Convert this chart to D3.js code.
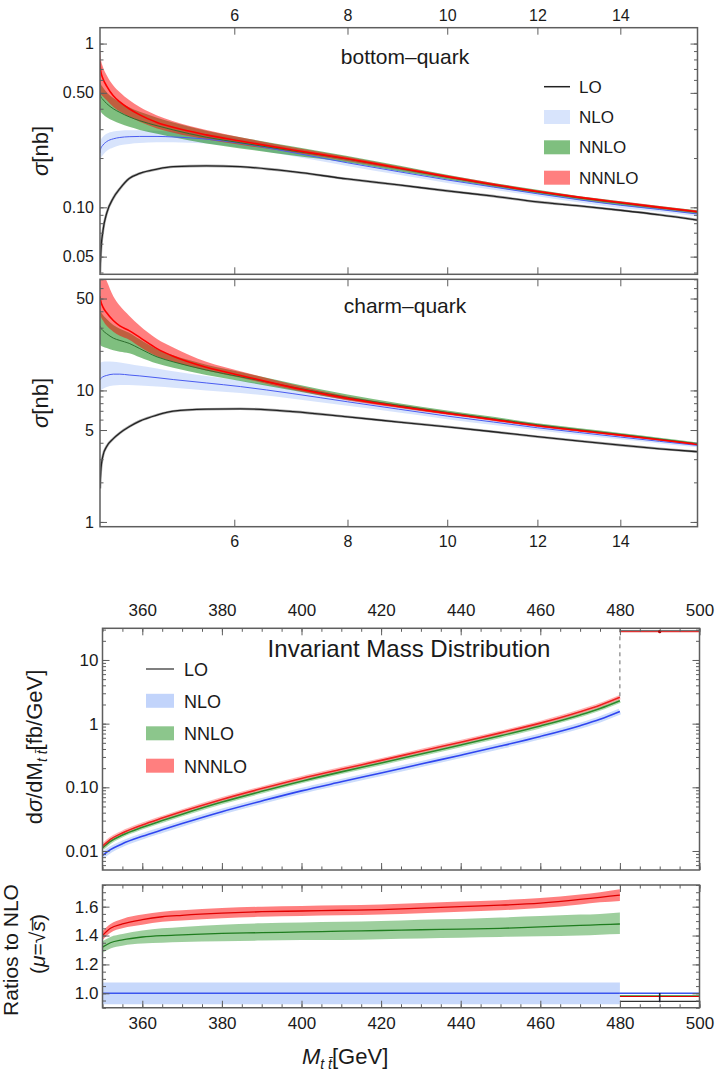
<!DOCTYPE html>
<html>
<head>
<meta charset="utf-8">
<script src="https://cdn.jsdelivr.net/npm/d3@7"></script>
<style>
  body { margin: 0; background: #fff; }
  svg text { font-family: "Liberation Sans", Arial, sans-serif; fill: #1a1a1a; }
</style>
</head>
<body>
<svg></svg>
<script>
// ---- top panels: x is s/m^2 ----
const sX = [4.0, 4.01, 4.04, 4.09, 4.18, 4.27, 4.4, 4.55, 4.8, 5.04, 5.55, 6.1, 7, 8, 9, 10, 11, 12, 13, 14, 15, 16]

// bottom-quark [nb]
const bLO = [0.040, 0.052, 0.072, 0.092, 0.114, 0.130, 0.150, 0.161, 0.171, 0.177, 0.179, 0.177, 0.165, 0.149, 0.137, 0.126, 0.117, 0.108, 0.102, 0.096, 0.090, 0.0836]
const bNLO = [0.215, 0.228, 0.240, 0.252, 0.262, 0.267, 0.270, 0.271, 0.271, 0.269, 0.261, 0.246, 0.216, 0.187, 0.165, 0.147, 0.133, 0.121, 0.111, 0.103, 0.097, 0.091]
const bNLOhi = [0.245, 0.258, 0.270, 0.281, 0.290, 0.294, 0.296, 0.296, 0.294, 0.290, 0.280, 0.262, 0.228, 0.196, 0.172, 0.153, 0.138, 0.126, 0.115, 0.107, 0.100, 0.094]
const bNLOlo = [0.188, 0.198, 0.209, 0.221, 0.232, 0.239, 0.244, 0.247, 0.250, 0.250, 0.245, 0.232, 0.205, 0.179, 0.158, 0.141, 0.128, 0.117, 0.107, 0.099, 0.094, 0.088]
const bNNLO = [0.50, 0.475, 0.455, 0.43, 0.40, 0.38, 0.357, 0.338, 0.315, 0.297, 0.268, 0.248, 0.221, 0.197, 0.173, 0.153, 0.137, 0.124, 0.114, 0.106, 0.0995, 0.0935]
const bNNLOhi = [0.60, 0.57, 0.54, 0.505, 0.465, 0.438, 0.408, 0.383, 0.353, 0.330, 0.294, 0.268, 0.235, 0.206, 0.180, 0.158, 0.141, 0.128, 0.117, 0.109, 0.102, 0.096]
const bNNLOlo = [0.40, 0.385, 0.37, 0.355, 0.338, 0.325, 0.31, 0.297, 0.281, 0.268, 0.245, 0.229, 0.207, 0.188, 0.166, 0.148, 0.133, 0.121, 0.111, 0.103, 0.097, 0.091]
const bN3LO = [0.78, 0.68, 0.61, 0.55, 0.48, 0.44, 0.40, 0.367, 0.33, 0.308, 0.277, 0.254, 0.224, 0.198, 0.174, 0.154, 0.138, 0.125, 0.115, 0.107, 0.100, 0.094]
const bN3LOhi = [0.95, 0.82, 0.72, 0.64, 0.555, 0.505, 0.452, 0.41, 0.364, 0.336, 0.297, 0.268, 0.233, 0.204, 0.178, 0.157, 0.141, 0.127, 0.117, 0.109, 0.102, 0.0955]
const bN3LOlo = [0.50, 0.49, 0.475, 0.45, 0.41, 0.385, 0.357, 0.333, 0.303, 0.285, 0.260, 0.241, 0.216, 0.192, 0.170, 0.151, 0.135, 0.123, 0.113, 0.105, 0.098, 0.0925]

// charm-quark [nb]
const cLO = [1.8, 2.4, 3.2, 3.75, 4.3, 4.75, 5.3, 5.85, 6.5, 6.95, 7.2, 7.25, 6.9, 6.3, 5.75, 5.29, 4.85, 4.45, 4.12, 3.84, 3.6, 3.42]
const cNLO = [12.0, 12.3, 12.7, 13.0, 13.3, 13.3, 13.1, 12.9, 12.5, 12.1, 11.4, 10.7, 9.45, 8.2, 7.2, 6.38, 5.75, 5.2, 4.78, 4.42, 4.1, 3.82]
const cNLOhi = [16.0, 16.3, 16.5, 16.6, 16.5, 16.3, 15.9, 15.4, 14.7, 14.0, 12.9, 11.9, 10.3, 8.8, 7.65, 6.75, 6.05, 5.45, 5.0, 4.6, 4.26, 3.96]
const cNLOlo = [9.8, 10.0, 10.3, 10.6, 10.9, 11.0, 11.0, 10.9, 10.7, 10.5, 10.0, 9.55, 8.65, 7.65, 6.8, 6.05, 5.47, 4.97, 4.58, 4.25, 3.95, 3.69]
const cNNLO = [31, 30, 28.5, 27, 25, 24, 22.8, 20.8, 18, 16.5, 14.3, 12.7, 10.6, 8.85, 7.7, 6.8, 6.1, 5.48, 5.02, 4.63, 4.27, 3.93]
const cNNLOhi = [42, 40, 37.5, 35, 31.5, 29.5, 27.5, 24.5, 20.6, 18.5, 15.7, 13.8, 11.3, 9.3, 8.0, 7.05, 6.3, 5.64, 5.16, 4.75, 4.37, 4.02]
const cNNLOlo = [22.5, 22, 21.5, 21, 20.2, 19.7, 19.2, 17.9, 16.0, 14.9, 13.1, 11.8, 10.0, 8.45, 7.42, 6.58, 5.92, 5.33, 4.89, 4.52, 4.17, 3.85]
const cN3LO = [52, 48, 43, 39, 34, 31, 28.5, 25.3, 20.8, 18.2, 15.0, 13.0, 10.5, 8.7, 7.55, 6.69, 6.0, 5.39, 4.95, 4.57, 4.22, 3.89]
const cN3LOhi = [90, 85, 78, 68, 52, 44, 37, 31, 24.6, 21.2, 16.5, 14.0, 11.1, 9.05, 7.8, 6.88, 6.15, 5.52, 5.06, 4.66, 4.30, 3.96]
const cN3LOlo = [40, 37, 34, 31, 28, 26, 24.3, 21.5, 18.2, 16.5, 14.2, 12.5, 10.1, 8.4, 7.35, 6.52, 5.86, 5.27, 4.85, 4.48, 4.14, 3.83]

// ---- invariant mass distribution [fb/GeV] ----
const mX = [350, 352, 355, 360, 365, 370, 380, 390, 400, 410, 420, 430, 440, 450, 460, 470, 475, 480]
const mNLO = [0.0085, 0.0105, 0.013, 0.017, 0.0215, 0.027, 0.0415, 0.061, 0.088, 0.122, 0.168, 0.232, 0.32, 0.445, 0.63, 0.93, 1.17, 1.55]
const mNNLO = [0.0112, 0.0142, 0.0178, 0.0236, 0.0301, 0.0379, 0.0587, 0.0866, 0.125, 0.175, 0.241, 0.334, 0.462, 0.645, 0.920, 1.37, 1.73, 2.29]
const mN3LO = [0.0119, 0.0152, 0.0192, 0.0257, 0.0329, 0.0416, 0.0645, 0.0955, 0.138, 0.192, 0.265, 0.369, 0.512, 0.717, 1.02, 1.54, 1.95, 2.60]

// ratios to NLO
const rN3LO = [1.40, 1.45, 1.48, 1.51, 1.53, 1.54, 1.555, 1.565, 1.57, 1.575, 1.58, 1.59, 1.60, 1.61, 1.625, 1.65, 1.665, 1.68]
const rN3LOhi = [1.43, 1.48, 1.515, 1.545, 1.565, 1.575, 1.59, 1.60, 1.605, 1.61, 1.615, 1.625, 1.635, 1.645, 1.66, 1.685, 1.70, 1.72]
const rN3LOlo = [1.37, 1.42, 1.45, 1.475, 1.495, 1.505, 1.52, 1.53, 1.535, 1.54, 1.545, 1.555, 1.565, 1.575, 1.59, 1.615, 1.63, 1.64]
const rNNLO = [1.32, 1.35, 1.37, 1.39, 1.40, 1.405, 1.415, 1.42, 1.425, 1.43, 1.435, 1.44, 1.445, 1.45, 1.46, 1.47, 1.475, 1.48]
const rNNLOhi = [1.36, 1.39, 1.41, 1.435, 1.45, 1.46, 1.475, 1.485, 1.49, 1.495, 1.50, 1.51, 1.515, 1.525, 1.535, 1.545, 1.55, 1.56]
const rNNLOlo = [1.28, 1.31, 1.33, 1.345, 1.35, 1.355, 1.36, 1.365, 1.37, 1.37, 1.375, 1.38, 1.385, 1.39, 1.395, 1.40, 1.405, 1.41]
const rNLOx = [350, 480]
const rNLO = [1.0, 1.0]
const rNLOhi = [1.075, 1.075]
const rNLOlo = [0.925, 0.925]

// the last bin, 480-500
const tailX = [480, 500]
const mTailLO = [28.5, 28.5]
const mTailN3LO = [27.8, 27.8]
const rTailNLO = [1.0, 1.0]
const rTailNNLO = [0.983, 0.983]
const rTailN3LO = [0.978, 0.978]
const rTailLO = [0.944, 0.944]
const errX = 490
const rErr = [0.938, 1.003]

// ticks and labels
const sTicks = [6, 8, 10, 12, 14]
const bYTicks = [0.05, 0.1, 0.5, 1]
const bYLabels = ["0.05", "0.10", "0.50", "1"]
const cYTicks = [1, 5, 10, 50]
const cYLabels = ["1", "5", "10", "50"]
const mXTicks = [360, 380, 400, 420, 440, 460, 480, 500]
const mYTicks = [0.01, 0.1, 1, 10]
const mYLabels = ["0.01", "0.10", "1", "10"]
const rYTicks = [1.0, 1.2, 1.4, 1.6]
const rYLabels = ["1.0", "1.2", "1.4", "1.6"]
const legendLabels = ["LO", "NLO", "NNLO", "NNNLO"]

const col = {
  lo: "#222", nlo: "#4a5cf0", nloBand: "#8fb1f7",
  nnlo: "#2b8a2b", nnloBand: "#008000", n3lo: "#f00", n3loBand: "#ff0000"
}
const frameColor = "#5e5e5e"
const font = '"Liberation Sans", Arial, sans-serif'

const svg = d3.select("svg").attr("width", 717).attr("height", 1072)

const xS = d3.scaleSqrt().domain([4, 16]).range([100, 697.5])
const yB = d3.scaleLog().domain([0.039, 1.25]).range([274.3, 27.7])
const yC = d3.scaleLog().domain([0.92, 70]).range([526.7, 279.3])
const xM = d3.scaleLinear().domain([350, 500]).range([102.5, 699.5])
const yM = d3.scaleLog().domain([0.00503, 31.45]).range([870, 628.3])
const yR = d3.scaleLinear().domain([0.9, 1.75]).range([1007.75, 885])

function panel(id, x, y) {
  const g = svg.append("g")
  const [x0, x1] = x.range(), [y0, y1] = y.range()
  g.append("clipPath").attr("id", id).append("rect")
    .attr("x", x0).attr("y", y1).attr("width", x1 - x0).attr("height", y0 - y1)
  const plot = g.append("g").attr("clip-path", `url(#${id})`)
  return { g, plot, x, y }
}

function band(p, xs, lo, hi, color, op) {
  p.plot.append("path").datum(xs)
    .attr("d", d3.area()
      .x(d => p.x(d))
      .y0((d, i) => p.y(lo[i]))
      .y1((d, i) => p.y(hi[i]))
      .curve(d3.curveMonotoneX))
    .attr("fill", color).attr("fill-opacity", op)
}

function line(p, xs, vals, color, w, op) {
  return p.plot.append("path").datum(xs)
    .attr("d", d3.line()
      .x(d => p.x(d))
      .y((d, i) => p.y(vals[i]))
      .curve(d3.curveMonotoneX))
    .attr("fill", "none").attr("stroke", color).attr("stroke-width", w)
    .attr("stroke-opacity", op == null ? 1 : op)
}

function addAxis(p, axisFn, scale, pos, majors, labels, minors, pad, fs) {
  const parts = []
  if (minors) {
    parts.push(p.g.append("g").attr("transform", pos)
      .call(axisFn(scale).tickValues(minors).tickSize(-3.5).tickFormat("")))
  }
  parts.push(p.g.append("g").attr("transform", pos)
    .call(axisFn(scale).tickValues(majors).tickSize(-7).tickPadding(pad)
      .tickFormat((d, i) => labels ? labels[i] : "")))
  parts.forEach(a => {
    a.select(".domain").remove()
    a.selectAll("line").attr("stroke", frameColor).attr("stroke-width", 1)
    a.selectAll("text").attr("font-size", fs).attr("font-family", font).attr("fill", "#1a1a1a")
  })
}

function frame(p) {
  const [x0, x1] = p.x.range(), [y0, y1] = p.y.range()
  p.g.append("rect").attr("x", x0).attr("y", y1)
    .attr("width", x1 - x0).attr("height", y0 - y1)
    .attr("fill", "none").attr("stroke", frameColor).attr("stroke-width", 1.5)
}

function yLabel(x, y, size, parts) {
  const t = svg.append("text").attr("transform", `translate(${x},${y}) rotate(-90)`)
    .attr("text-anchor", "middle").attr("font-size", size)
  parts.forEach(([s, st]) => {
    const ts = t.append("tspan").text(s)
    if (st) Object.entries(st).forEach(([k, v]) => ts.attr(k, v))
  })
  return t
}

// ===== panel 1: bottom-quark =====
function crossSection(p, lo, nlo, nloLo, nloHi, nnlo, nnloLo, nnloHi, n3lo, n3loLo, n3loHi) {
  band(p, sX, nloLo, nloHi, col.nloBand, 0.35)
  band(p, sX, nnloLo, nnloHi, col.nnloBand, 0.5)
  band(p, sX, n3loLo, n3loHi, col.n3loBand, 0.5)
  line(p, sX, lo, "#aaa", 2.6)
  line(p, sX, lo, col.lo, 1.3)
  line(p, sX, nlo, col.nlo, 1)
  line(p, sX, nnlo, "#2f6e2f", 1)
  line(p, sX, n3lo, col.n3lo, 1.6)
}

const pB = panel("clipB", xS, yB)
crossSection(pB, bLO, bNLO, bNLOlo, bNLOhi, bNNLO, bNNLOlo, bNNLOhi, bN3LO, bN3LOlo, bN3LOhi)
addAxis(pB, d3.axisLeft, yB, "translate(100,0)", bYTicks, bYLabels, yB.ticks(), 6, 16)
addAxis(pB, d3.axisRight, yB, "translate(697.5,0)", bYTicks, null, yB.ticks(), 6, 16)
addAxis(pB, d3.axisTop, xS, "translate(0,27.7)", sTicks, sTicks.map(String), null, 7, 16)
addAxis(pB, d3.axisBottom, xS, "translate(0,274.3)", sTicks, null, null, 7, 16)
frame(pB)

pB.g.append("text").attr("x", 405).attr("y", 63.5).attr("text-anchor", "middle")
  .attr("font-size", 21).text("bottom\u2013quark")

// legend, top panel
const legB = pB.g.append("g")
const legBy = [86.7, 117, 147.3, 177.7]
legB.append("line").attr("x1", 544).attr("x2", 570).attr("y1", legBy[0]).attr("y2", legBy[0])
  .attr("stroke", col.lo).attr("stroke-width", 1.5)
;[[col.nloBand, 0.35], [col.nnloBand, 0.5], [col.n3loBand, 0.5]].forEach(([c, o], i) => {
  legB.append("rect").attr("x", 544).attr("y", legBy[i + 1] - 7).attr("width", 26).attr("height", 14)
    .attr("fill", c).attr("fill-opacity", o)
})
legendLabels.forEach((s, i) => {
  legB.append("text").attr("x", 579).attr("y", legBy[i] + 6).attr("font-size", 17).text(s)
})

yLabel(48, 151, 22, [["σ", { "font-style": "italic" }], ["[nb]"]])

// ===== panel 2: charm-quark =====
const pC = panel("clipC", xS, yC)
crossSection(pC, cLO, cNLO, cNLOlo, cNLOhi, cNNLO, cNNLOlo, cNNLOhi, cN3LO, cN3LOlo, cN3LOhi)
addAxis(pC, d3.axisLeft, yC, "translate(100,0)", cYTicks, cYLabels, yC.ticks(), 6, 16)
addAxis(pC, d3.axisRight, yC, "translate(697.5,0)", cYTicks, null, yC.ticks(), 6, 16)
addAxis(pC, d3.axisTop, xS, "translate(0,279.3)", sTicks, null, null, 7, 16)
addAxis(pC, d3.axisBottom, xS, "translate(0,526.7)", sTicks, sTicks.map(String), null, 9, 16)
frame(pC)

pC.g.append("text").attr("x", 405).attr("y", 313).attr("text-anchor", "middle")
  .attr("font-size", 21).text("charm\u2013quark")

yLabel(48, 403, 22, [["σ", { "font-style": "italic" }], ["[nb]"]])

// ===== panel 3: invariant mass distribution =====
const pM = panel("clipM", xM, yM)
line(pM, mX, mNLO, col.nloBand, 6, 0.45)
line(pM, mX, mNNLO, "#7cc47c", 4.5, 0.6)
line(pM, mX, mN3LO, "#ff8080", 4.5, 0.6)
line(pM, mX, mNLO, "#2f45f0", 1.6)
line(pM, mX, mNNLO, col.nnlo, 1.6)
line(pM, mX, mN3LO, "#ee2020", 1.6)

// dashed edge of the last bin
pM.plot.append("path").datum([yM.domain()[1], mN3LO[mN3LO.length - 1]])
  .attr("d", d3.line().x(() => xM(tailX[0])).y(d => yM(d)))
  .attr("stroke", "#666").attr("stroke-width", 1).attr("stroke-dasharray", "4,4").attr("fill", "none")
line(pM, tailX, mTailLO, "#444", 1.6)
line(pM, tailX, mTailN3LO, "#d33", 1.2)
pM.plot.append("circle").attr("cx", xM(errX)).attr("cy", yM(mTailN3LO[0])).attr("r", 1.6).attr("fill", "#a00")

const mMinor = d3.range(350, 501, 5)
addAxis(pM, d3.axisLeft, yM, "translate(102.5,0)", mYTicks, mYLabels, yM.ticks(), 4, 17)
addAxis(pM, d3.axisRight, yM, "translate(699.5,0)", mYTicks, null, yM.ticks(), 4, 17)
addAxis(pM, d3.axisTop, xM, "translate(0,628.3)", mXTicks, mXTicks.map(String), mMinor, 12, 17)
addAxis(pM, d3.axisBottom, xM, "translate(0,870)", mXTicks, null, mMinor, 9, 17)
frame(pM)

pM.g.append("text").attr("x", 409).attr("y", 657).attr("text-anchor", "middle")
  .attr("font-size", 24).text("Invariant Mass Distribution")

const legM = pM.g.append("g")
const legMy = [669, 700.8, 733.3, 765.7]
legM.append("line").attr("x1", 146).attr("x2", 174).attr("y1", legMy[0]).attr("y2", legMy[0])
  .attr("stroke", "#555").attr("stroke-width", 1.5)
;[[col.nloBand, 0.55], [col.nnloBand, 0.45], [col.n3loBand, 0.5]].forEach(([c, o], i) => {
  legM.append("rect").attr("x", 146).attr("y", legMy[i + 1] - 7).attr("width", 28).attr("height", 14)
    .attr("fill", c).attr("fill-opacity", o)
})
legendLabels.forEach((s, i) => {
  legM.append("text").attr("x", 184).attr("y", legMy[i] + 7).attr("font-size", 18).text(s)
})

yLabel(42, 747, 22, [
  ["d"], ["σ", { "font-style": "italic" }], ["/dM"],
  ["t t\u0304", { "font-style": "italic", "font-size": 14, "dy": 5 }],
  ["[fb/GeV]", { "dy": -5 }]
])

// ===== panel 4: ratios to NLO =====
const pR = panel("clipR", xM, yR)
band(pR, rNLOx, rNLOlo, rNLOhi, col.nloBand, 0.5)
band(pR, mX, rNNLOlo, rNNLOhi, col.nnloBand, 0.38)
band(pR, mX, rN3LOlo, rN3LOhi, col.n3loBand, 0.5)
line(pR, rNLOx, rNLO, "#3b55ee", 1.6)
line(pR, mX, rNNLO, "#1f7d1f", 1.3)
line(pR, mX, rN3LO, "#e00000", 1.3)
line(pR, tailX, rTailNLO, "#3b55ee", 1.4)
line(pR, tailX, rTailNNLO, "#2b8a2b", 1.2)
line(pR, tailX, rTailN3LO, "#e00000", 1.2)
line(pR, tailX, rTailLO, "#333", 1.2)
pR.plot.append("path").datum(rErr)
  .attr("d", d3.line().x(() => xM(errX)).y(d => yR(d)))
  .attr("stroke", "#223").attr("stroke-width", 1.6).attr("fill", "none")

addAxis(pR, d3.axisLeft, yR, "translate(102.5,0)", rYTicks, rYLabels, d3.range(0.9, 1.751, 0.05), 4, 17)
addAxis(pR, d3.axisRight, yR, "translate(699.5,0)", rYTicks, null, d3.range(0.9, 1.751, 0.05), 4, 17)
addAxis(pR, d3.axisTop, xM, "translate(0,885)", mXTicks, null, mMinor, 9, 17)
addAxis(pR, d3.axisBottom, xM, "translate(0,1007.75)", mXTicks, mXTicks.map(String), mMinor, 9, 17)
frame(pR)

yLabel(18, 950, 21, [["Ratios to NLO"]])
yLabel(45, 944, 21, [["("], ["μ", { "font-style": "italic" }], ["=\u221A"], ["s\u0305", { "font-style": "italic" }], [")"]])

const xt = svg.append("text").attr("x", 302).attr("y", 1064).attr("font-size", 22)
xt.append("tspan").attr("font-style", "italic").text("M")
xt.append("tspan").attr("font-style", "italic").attr("font-size", 14).attr("dy", 5).text("t t\u0304")
xt.append("tspan").attr("dy", -5).text("[GeV]")
</script>
</body>
</html>
